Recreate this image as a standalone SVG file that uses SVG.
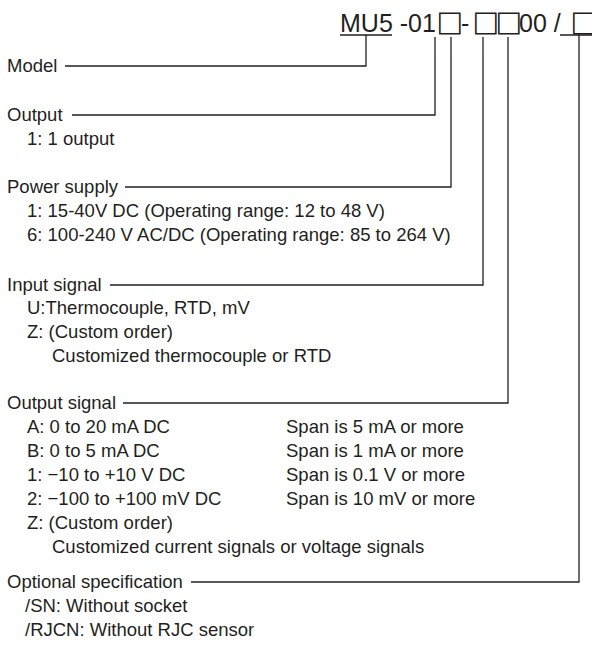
<svg xmlns="http://www.w3.org/2000/svg" width="592" height="652" viewBox="0 0 592 652">
<style>
text{font-family:"Liberation Sans",Arial,sans-serif;fill:#231f20}
.t{font-size:18.5px}
.h{font-size:25px}
.bx{font-family:"DejaVu Sans",sans-serif;font-size:28.5px}
.c{fill:none;stroke:#231f20;stroke-width:1.3}
</style>
<rect width="592" height="652" fill="#fff"/>
<g id="code">
<text class="h" x="340" y="32">MU5 -01<tspan class="bx" x="436.4" y="30.6">□</tspan><tspan x="461" y="32">-</tspan><tspan class="bx" x="472.4" y="30.6">□</tspan><tspan class="bx" x="495.4" y="30.6">□</tspan><tspan x="519" y="32">00 /</tspan><tspan class="bx" x="570.4" y="30.6">□</tspan></text>
</g>
<g id="connectors" class="c">
<path d="M340 35H392M366 35V66H65"/>
<path d="M435 37V115H72"/>
<path d="M451 37V187H125"/>
<path d="M483 37V285H110"/>
<path d="M508 37V403H123"/>
<path d="M560 35H592M579 35V582H191"/>
</g>
<g id="model"><text class="t" x="7" y="72">Model</text></g>
<g id="output"><text class="t" x="7" y="121">Output</text>
<text class="t" x="27" y="145">1: 1 output</text></g>
<g id="power"><text class="t" x="7" y="193">Power supply</text>
<text class="t" x="27" y="217">1: 15-40V DC (Operating range: 12 to 48 V)</text>
<text class="t" x="27" y="241">6: 100-240 V AC/DC (Operating range: 85 to 264 V)</text></g>
<g id="input"><text class="t" x="7" y="291">Input signal</text>
<text class="t" x="27" y="314">U:Thermocouple, RTD, mV</text>
<text class="t" x="27" y="338">Z: (Custom order)</text>
<text class="t" x="52" y="362">Customized thermocouple or RTD</text></g>
<g id="outsig"><text class="t" x="7" y="409">Output signal</text>
<text class="t" x="27" y="433">A: 0 to 20 mA DC</text>
<text class="t" x="286" y="433">Span is 5 mA or more</text>
<text class="t" x="27" y="457">B: 0 to 5 mA DC</text>
<text class="t" x="286" y="457">Span is 1 mA or more</text>
<text class="t" x="27" y="481">1: −10 to +10 V DC</text>
<text class="t" x="286" y="481">Span is 0.1 V or more</text>
<text class="t" x="27" y="505">2: −100 to +100 mV DC</text>
<text class="t" x="286" y="505">Span is 10 mV or more</text>
<text class="t" x="27" y="529">Z: (Custom order)</text>
<text class="t" x="52" y="553">Customized current signals or voltage signals</text></g>
<g id="optional"><text class="t" x="7" y="588">Optional specification</text>
<text class="t" x="25" y="612">/SN: Without socket</text>
<text class="t" x="25" y="636">/RJCN: Without RJC sensor</text></g>
</svg>
